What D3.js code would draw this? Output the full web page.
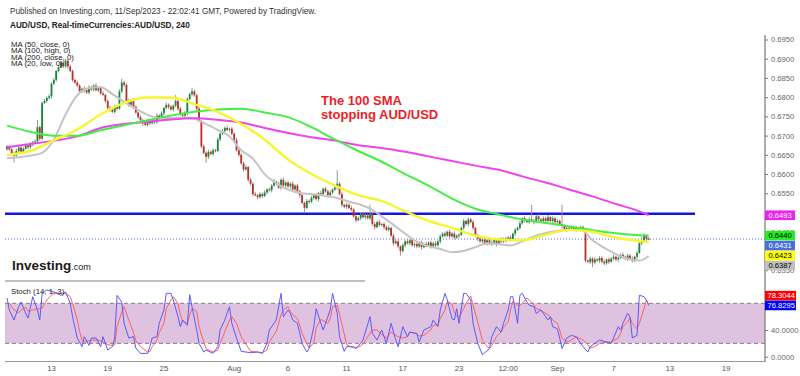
<!DOCTYPE html>
<html><head><meta charset="utf-8">
<script src="https://cdn.jsdelivr.net/npm/d3@7"></script>
<style>body{margin:0;background:#fff}svg{display:block;font-family:"Liberation Sans",Arial,sans-serif}</style>
</head><body><svg id="c" width="800" height="376"></svg>
<script>
// ---------- DATA ----------
const firstOpen = 0.6665;
const closes = [
.6672,.6664,.6655,.6648,.6660,.6669,.6658,.6666,.6675,.6670,.6678,.6682,.6685,.6722,.6692,.6785,.6790,.6798,.6802,.6835,.6845,.6868,.6878,.6890,.6880,
.6895,.6880,.6868,.6845,.6838,.6830,.6815,.6822,.6818,.6812,.6826,.6820,.6830,.6818,.6824,.6810,.6806,.6790,.6772,.6768,.6762,.6775,.6770,.6815,.6838,
.6832,.6790,.6780,.6792,.6775,.6760,.6748,.6740,.6732,.6728,.6738,.6732,.6740,.6735,.6752,.6745,.6758,.6772,.6780,.6775,.6768,.6778,.6790,.6770,.6755,
.6752,.6758,.6795,.6808,.6815,.6805,.6770,.6738,.6672,.6655,.6645,.6658,.6652,.6662,.6660,.6690,.6705,.6712,.6720,.6715,.6718,.6705,.6688,.6662,.6650,
.6628,.6612,.6618,.6585,.6575,.6548,.6545,.6540,.6548,.6543,.6552,.6560,.6558,.6570,.6580,.6575,.6565,.6585,.6570,.6578,.6568,.6575,.6560,.6570,.6555,
.6545,.6525,.6512,.6530,.6528,.6538,.6545,.6535,.6550,.6548,.6562,.6555,.6545,.6552,.6560,.6565,.6575,.6548,.6520,.6515,.6520,.6512,.6508,.6490,.6480,
.6485,.6495,.6488,.6492,.6485,.6498,.6470,.6462,.6475,.6468,.6470,.6462,.6455,.6460,.6440,.6420,.6425,.6412,.6400,.6415,.6425,.6420,.6428,.6415,.6418,
.6412,.6422,.6410,.6418,.6415,.6422,.6412,.6420,.6415,.6425,.6438,.6445,.6440,.6450,.6438,.6445,.6435,.6440,.6442,.6460,.6478,.6470,.6482,.6475,.6460,
.6440,.6432,.6425,.6430,.6420,.6428,.6418,.6422,.6428,.6418,.6430,.6425,.6432,.6428,.6435,.6430,.6445,.6455,.6460,.6472,.6485,.6480,.6475,.6482,.6478,
.6475,.6490,.6482,.6478,.6485,.6478,.6488,.6478,.6485,.6475,.6478,.6470,.6465,.6455,.6460,.6458,.6462,.6455,.6460,.6458,.6462,.6455,.6375,.6372,.6380,
.6370,.6378,.6375,.6382,.6372,.6368,.6378,.6372,.6380,.6385,.6378,.6382,.6390,.6385,.6380,.6388,.6380,.6375,.6385,.6395,.6420,.6428,.6440,.6432,.6431];
// wick lengths beyond the body, in pips
const wickUpPips = [
4,3,5,3,6,4,3,5,4,3,6,4,5,19,4,3,5,4,6,4,5,3,6,4,5,
4,3,5,4,3,5,4,3,6,4,5,3,4,6,3,4,5,3,4,6,3,5,4,6,10,
5,4,6,3,5,4,3,5,4,6,3,4,5,3,6,4,5,3,6,4,5,3,16,4,5,
4,6,5,4,9,5,4,6,3,5,4,6,3,5,4,6,3,5,4,6,3,5,4,6,3,
5,4,6,3,5,4,6,3,5,4,6,3,5,4,8,3,5,4,6,3,5,4,6,3,5,
4,6,3,5,4,6,3,5,4,6,3,5,4,6,3,5,35,4,6,3,5,4,6,3,5,
4,6,3,5,4,22,3,5,4,6,3,5,4,6,3,5,4,6,3,5,4,6,3,5,4,
6,3,5,4,6,3,5,4,6,3,5,4,6,3,5,4,6,3,5,4,6,3,5,4,6,
3,5,4,6,3,5,4,6,3,5,4,6,3,5,4,6,3,5,4,6,3,5,4,6,38,
5,4,6,3,5,4,6,3,5,4,6,3,50,4,6,3,5,4,6,3,5,4,6,3,5,
4,6,3,5,4,6,3,5,4,6,3,5,4,6,3,5,4,6,3,5,4,8,6,3,5];
const wickDnPips = [
5,4,6,18,3,5,4,6,3,5,4,6,3,4,5,4,3,5,4,6,3,5,4,3,5,
4,6,3,5,4,3,5,4,6,3,5,4,6,3,5,4,3,5,4,6,3,5,4,3,5,
6,3,5,4,6,3,5,4,6,3,5,4,3,5,4,6,3,5,4,6,3,5,4,6,3,
5,4,6,3,5,4,6,3,5,4,16,6,3,5,4,3,5,4,6,3,5,4,6,3,5,
4,6,3,5,4,6,3,5,4,6,3,5,4,6,3,5,4,6,3,5,4,6,3,5,4,
6,3,13,4,6,3,5,4,6,3,5,4,6,3,5,4,6,3,5,4,6,3,5,4,6,
3,5,4,6,3,5,4,6,3,5,4,6,3,5,4,6,3,5,12,4,6,3,5,4,6,
5,4,6,3,5,4,6,3,5,4,6,3,5,4,6,3,5,4,6,3,5,4,6,3,5,
4,6,3,5,4,6,3,5,4,6,3,5,4,6,3,5,4,6,3,5,4,6,3,5,4,
6,3,5,4,6,3,5,4,6,3,5,4,6,3,5,4,6,3,5,4,6,3,5,4,6,
12,5,4,6,3,5,4,6,3,5,4,6,3,5,4,6,3,5,4,6,3,5,4,6,3];

const maIdx = [0,10,20,30,40,50,60,70,80,90,100,110,120,130,140,150,160,170,180,190,200,210,220,230,240,250,260,270,274];
const ma50  = [.6650,.6660,.6688,.6716,.6755,.6785,.6799,.6799,.6782,.6762,.6730,.6690,.6638,.6600,.6570,.6545,.6530,.6503,.6478,.6460,.6440,.6430,.6428,.6442,.6455,.6450,.6435,.6426,.6423];
const ma100 = [.6726,.6710,.6700,.6700,.6714,.6727,.6740,.6752,.6762,.6768,.6770,.6760,.6748,.6722,.6690,.6660,.6632,.6600,.6570,.6536,.6510,.6495,.6482,.6473,.6464,.6454,.6446,.6441,.6440];
const ma200 = [.6670,.6678,.6687,.6698,.6720,.6730,.6736,.6742,.6745,.6741,.6734,.6720,.6707,.6696,.6687,.6675,.6668,.6658,.6646,.6634,.6622,.6611,.6594,.6578,.6560,.6542,.6522,.6503,.6493];
const ma20Idx = [0,5,10,15,20,25,30,35,40,45,50,55,60,65,70,75,80,85,90,95,100,105,110,115,120,125,130,135,140,145,150,155,160,165,170,175,180,185,190,195,200,205,210,215,220,225,230,235,240,245,250,255,260,265,270,274];
const ma20  = [.6642,.6644,.6648,.6655,.6690,.6755,.6805,.6824,.6826,.6808,.6788,.6770,.6754,.6746,.6746,.6747,.6744,.6730,.6715,.6698,.6662,.6640,.6600,.6576,.6560,.6551,.6548,.6544,.6539,.6530,.6522,.6510,.6490,.6468,.6445,.6424,.6412,.6405,.6397,.6400,.6410,.6420,.6418,.6414,.6425,.6438,.6447,.6452,.6455,.6455,.6428,.6408,.6392,.6380,.6375,.6387];

const stochIdx = [0,1,3,5,6,8,9,11,13,14,15,17,20,23,25,27,28,30,31,32,33,35,36,38,40,41,43,45,46,47,49,50,52,54,55,57,60,61,62,64,65,67,68,70,71,73,74,75,77,78,79,81,82,84,85,88,90,91,93,95,96,98,100,104,107,109,111,112,115,117,118,120,121,122,124,125,126,128,129,131,132,134,135,137,138,139,141,142,144,145,148,149,151,152,155,156,158,160,162,164,166,167,169,171,172,175,176,178,181,182,184,185,187,188,190,191,192,193,195,196,198,199,201,203,206,207,209,211,212,214,215,216,218,219,220,222,223,225,226,228,229,231,232,233,235,236,237,239,241,243,246,248,249,251,253,256,258,261,262,263,265,266,267,269,270,272,273,274];
const stochK = [88,70,55,75,82,65,58,90,70,55,95,100,97,92,97,80,60,28,22,15,30,17,28,28,15,30,10,15,28,92,82,50,28,30,13,5,5,15,28,30,50,70,95,95,85,60,45,55,47,93,75,40,20,7,10,5,15,40,55,75,50,28,8,6,7,5,20,40,55,95,60,70,65,55,50,35,20,7,12,45,72,50,40,60,70,95,65,30,8,15,15,12,20,25,60,35,25,40,20,50,25,15,45,30,37,35,22,40,45,55,45,70,95,85,57,55,72,50,95,95,85,50,20,3,12,30,45,37,50,70,90,90,50,92,95,82,77,75,65,70,65,55,60,45,42,28,12,28,32,30,15,7,15,20,25,22,20,45,40,50,65,60,28,32,92,90,85,76.8295];
const stochD = [80,80,70,66,70,74,68,70,72,72,73,85,96,95,95,90,80,55,38,25,22,24,25,25,24,22,18,17,18,45,67,75,55,36,24,15,7,8,15,25,36,50,72,85,90,80,63,53,50,63,72,68,45,22,12,7,10,20,37,55,60,50,30,8,7,6,10,22,38,63,70,75,68,63,57,47,35,20,13,21,43,56,54,50,57,75,77,63,34,18,13,14,16,19,35,40,40,33,28,37,32,30,28,30,37,34,31,32,40,47,48,57,70,83,79,66,61,59,72,80,91,77,52,24,12,17,30,37,44,52,70,83,77,77,80,88,85,78,72,70,67,63,60,55,50,40,28,22,25,30,25,18,13,15,20,22,22,28,35,45,52,58,50,42,50,72,85,78.3044];

const xTickIdx = [19,43,67,97,120,145,169,193,214,235,259,283,307];
const xTickLabels = ["13","19","25","Aug","6","11","17","23","12:00","Sep","7","13","19"];
// 0.6400 / 0.6500 / 80 are fully covered by the value labels in the reference
const yTicks = [0.6350,0.6450,0.6550,0.6600,0.6650,0.6700,0.6750,0.6800,0.6850,0.6900,0.6950];
const stochTicks = [0,40];
const hLineLevel = 0.6493;
const legendLabels = ["MA (50, close, 0)","MA (100, high, 0)","MA (200, close, 0)","MA (20, low, 0)"];

// ---------- DRAW ----------
const svg = d3.select("#c");
const x = d3.scaleLinear().domain([0,307]).range([7,726]);
const y = d3.scaleLinear().domain([0.6350,0.6950]).range([270.2,39.5]);
const ys = d3.scaleLinear().domain([0,100]).range([356.7,290]);
const L = 5, R = 765;

const defs = svg.append("defs");
defs.append("clipPath").attr("id","cm").append("rect").attr("x",L).attr("y",32).attr("width",R-L).attr("height",249);
defs.append("clipPath").attr("id","cs").append("rect").attr("x",L).attr("y",283).attr("width",R-L).attr("height",78);

// header
svg.append("text").attr("x",10).attr("y",14).attr("font-size",8.2).attr("fill","#333")
  .text("Published on Investing.com, 11/Sep/2023 - 22:02:41 GMT, Powered by TradingView.");
svg.append("text").attr("x",10).attr("y",28).attr("font-size",8.2).attr("font-weight","bold").attr("fill","#222")
  .text("AUD/USD, Real-timeCurrencies:AUD/USD, 240");

const main = svg.append("g").attr("clip-path","url(#cm)");

// horizontal drawn line and last price line
main.append("line").attr("x1",L).attr("x2",695).attr("y1",y(hLineLevel)-1.5).attr("y2",y(hLineLevel)-1.5)
  .attr("stroke","#1515e8").attr("stroke-width",2.6);
main.append("line").attr("x1",L).attr("x2",R).attr("y1",y(closes[closes.length-1])).attr("y2",y(closes[closes.length-1]))
  .attr("stroke","#4a6ee0").attr("stroke-width",1).attr("stroke-dasharray","1,2");

// candles
const candles = closes.map((c,i)=>{
  const o = i===0 ? firstOpen : closes[i-1];
  return {i,o,c,h:Math.max(o,c)+wickUpPips[i]/1e4,l:Math.min(o,c)-wickDnPips[i]/1e4};
});
const cg = main.append("g");
cg.selectAll("line").data(candles).join("line")
  .attr("x1",d=>x(d.i)).attr("x2",d=>x(d.i)).attr("y1",d=>y(d.h)).attr("y2",d=>y(d.l))
  .attr("stroke",d=>d.c>=d.o?"#7fa58a":"#b08a8a").attr("stroke-width",1);
cg.selectAll("rect").data(candles).join("rect")
  .attr("x",d=>x(d.i)-0.9).attr("width",1.8)
  .attr("y",d=>y(Math.max(d.o,d.c))).attr("height",d=>Math.max(1,Math.abs(y(d.o)-y(d.c))))
  .attr("fill",d=>d.c>=d.o?"#17863a":"#b9302a");

// moving averages
const lineGen = d3.line().x(d=>x(d[0])).y(d=>y(d[1])).curve(d3.curveMonotoneX);
const maSeries = [
  {idx:ma20Idx, v:ma20,  color:"#c4c4c4", w:2},
  {idx:maIdx,   v:ma200, color:"#ee44ee", w:2},
  {idx:maIdx,   v:ma100, color:"#44ee44", w:2},
  {idx:maIdx,   v:ma50,  color:"#f5f530", w:2.4}
];
maSeries.forEach(s=>{
  main.append("path").attr("d",lineGen(s.idx.map((i,k)=>[i,s.v[k]])))
    .attr("fill","none").attr("stroke",s.color).attr("stroke-width",s.w);
});

// legend
legendLabels.forEach((t,k)=>{
  svg.append("text").attr("x",11).attr("y",47+k*6.4).attr("font-size",7.8).attr("fill","#222").text(t);
});

// annotation
const ann = svg.append("text").attr("font-size",13).attr("font-weight","bold").attr("fill","#ee1c25");
ann.append("tspan").attr("x",321).attr("y",105).text("The 100 SMA");
ann.append("tspan").attr("x",321).attr("y",119).text("stopping AUD/USD");

// Investing.com logo
const logo = svg.append("text").attr("x",12).attr("y",270).attr("fill","#1a1a1a");
logo.append("tspan").attr("font-size",13.5).attr("font-weight","bold").text("Investing");
logo.append("tspan").attr("font-size",9).text(".com");
svg.append("line").attr("x1",L).attr("x2",365).attr("y1",281).attr("y2",281).attr("stroke","#aaa").attr("stroke-width",1.5);

// right axis main
const ax = svg.append("g").attr("transform",`translate(${R},0)`)
  .call(d3.axisRight(y).tickValues(yTicks).tickFormat(d3.format(".4f")).tickSize(3).tickPadding(3));
ax.select(".domain").remove();
ax.selectAll("line").attr("stroke","#777");
ax.selectAll("text").attr("font-size",7.6).attr("fill","#666").attr("font-family","Liberation Sans, Arial, sans-serif");

// stoch pane
const st = svg.append("g").attr("clip-path","url(#cs)");
st.append("rect").attr("x",L).attr("width",R-L).attr("y",ys(80)).attr("height",ys(20)-ys(80)).attr("fill","#dfc2df");
[80,20].forEach(v=>st.append("line").attr("x1",L).attr("x2",R).attr("y1",ys(v)).attr("y2",ys(v))
  .attr("stroke","#8a7a8a").attr("stroke-width",1).attr("stroke-dasharray","4,3"));
const sl = d3.line().x(d=>x(d[0])).y(d=>ys(d[1]));
st.append("path").attr("d",sl(stochIdx.map((i,k)=>[i,stochD[k]]))).attr("fill","none").attr("stroke","#ff6060").attr("stroke-width",1);
st.append("path").attr("d",sl(stochIdx.map((i,k)=>[i,stochK[k]]))).attr("fill","none").attr("stroke","#5a5aff").attr("stroke-width",1);
svg.append("text").attr("x",11).attr("y",294).attr("font-size",7.8).attr("fill","#222").text("Stoch (14, 1, 3)");

const sax = svg.append("g").attr("transform",`translate(${R},0)`)
  .call(d3.axisRight(ys).tickValues(stochTicks).tickFormat(d3.format(".4f")).tickSize(3).tickPadding(3));
sax.select(".domain").remove();
sax.selectAll("line").attr("stroke","#777");
sax.selectAll("text").attr("font-size",7.6).attr("fill","#666").attr("font-family","Liberation Sans, Arial, sans-serif");

// axis lines
svg.append("line").attr("x1",R).attr("x2",R).attr("y1",35).attr("y2",362).attr("stroke","#777").attr("stroke-width",1.2);
svg.append("line").attr("x1",L).attr("x2",R).attr("y1",361.5).attr("y2",361.5).attr("stroke","#999").attr("stroke-width",1.2);

// x axis labels
svg.append("g").selectAll("text").data(xTickIdx).join("text")
  .attr("x",d=>x(d)).attr("y",371).attr("text-anchor","middle").attr("font-size",7.8).attr("fill","#555")
  .text((d,k)=>xTickLabels[k]);

// value labels (right)
const n = closes.length-1;
const boxes = [
  {v:ma200[ma200.length-1], fill:"#ee22ee", tc:"#fff"},
  {v:ma100[ma100.length-1], fill:"#22ee22", tc:"#000"},
  {v:closes[n],             fill:"#4a6ee0", tc:"#fff"},
  {v:ma50[ma50.length-1],   fill:"#ffff00", tc:"#000"},
  {v:ma20[ma20.length-1],   fill:"#c0c0c0", tc:"#000"}
];
let prev = -1e9;
boxes.forEach(b=>{ b.cy = Math.max(y(b.v), prev+10); prev = b.cy; });
const bg = svg.append("g");
boxes.forEach(b=>{
  bg.append("rect").attr("x",R).attr("y",b.cy-4.8).attr("width",30).attr("height",9.6).attr("fill",b.fill);
  bg.append("text").attr("x",R+3.5).attr("y",b.cy+2.8).attr("font-size",7.6).attr("fill",b.tc).text(b.v.toFixed(4));
});
const kLast = stochK[stochK.length-1], dLast = stochD[stochD.length-1];
const kY = ys(kLast), dY = Math.min(ys(dLast), kY-9.8);
[{v:dLast,cy:dY,fill:"#ff0000"},{v:kLast,cy:kY,fill:"#0000ff"}].forEach(b=>{
  bg.append("rect").attr("x",R).attr("y",b.cy-4.8).attr("width",31).attr("height",9.6).attr("fill",b.fill);
  bg.append("text").attr("x",R+2.5).attr("y",b.cy+2.8).attr("font-size",7.6).attr("fill","#fff").text(b.v.toFixed(4));
});
</script></body></html>
